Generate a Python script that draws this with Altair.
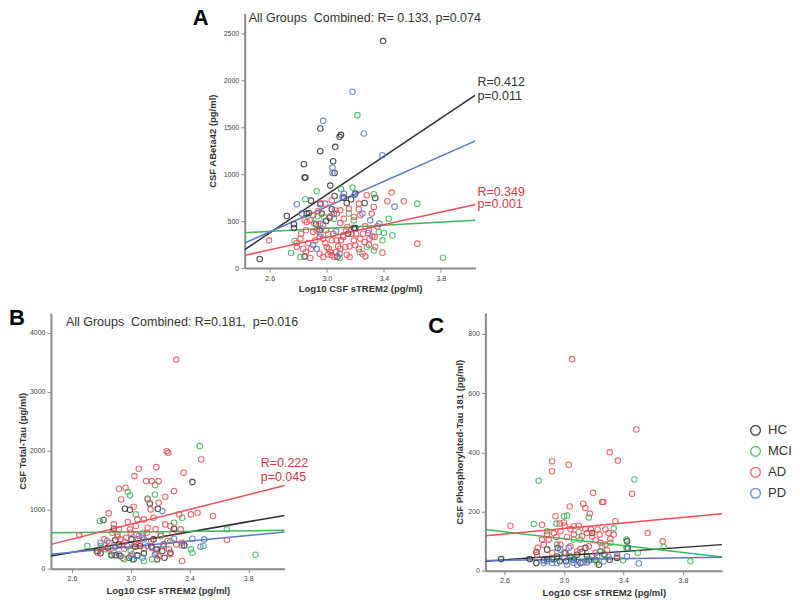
import altair as alt
import pandas as pd

FONT = "Liberation Sans"
GROUPS = ["HC", "MCI", "AD", "PD"]
COLORS = ["#2e2e2e", "#3cb85a", "#ec4f57", "#5b79c9"]

# ---------------- Panel A : CSF ABeta42 ----------------
a_hc_x = [3.395, 3.09, 3.10, 2.955, 2.955, 3.06, 3.045, 3.055, 2.84, 2.845, 2.85, 3.025, 2.89, 2.72,
          2.86, 2.875, 2.77, 2.77, 2.965, 2.995, 3.02, 2.925, 2.95, 3.035, 3.055, 3.12, 3.17, 3.2,
          3.265, 3.34, 3.14, 3.19, 3.15, 2.53, 2.845, 3.075, 3.2]
a_hc_y = [2418, 1398, 1419, 1486, 1245, 1291, 1138, 1013, 1106, 964, 964, 878, 718, 555,
          580, 587, 466, 427, 580, 501, 537, 466, 402, 626, 768, 750, 733, 793,
          693, 747, 693, 427, 366, 96, 124, 121, 427]
a_mci_x = [3.215, 2.93, 2.85, 3.18, 3.1, 3.33, 3.635, 3.435, 3.4, 3.46, 3.39, 3.365, 2.775, 2.75,
           3.815, 3.09, 3.28, 3.23, 3.05, 2.935, 2.98, 2.91, 3.01, 3.19, 2.815, 2.955, 3.155, 3.33]
a_mci_y = [1629, 818, 733, 857, 839, 786, 686, 526, 373, 349, 295, 384, 288, 160,
           110, 107, 224, 171, 526, 551, 544, 480, 366, 508, 117, 679, 580, 188]
a_ad_x = [2.595, 3.455, 3.54, 3.425, 3.635, 3.39, 3.28, 3.33, 3.225, 3.235, 3.315, 3.355, 3.295, 3.3,
          3.32, 3.265, 3.225, 3.25, 3.27, 3.16, 3.13, 3.16, 3.19, 3.205, 3.255, 3.145, 3.095, 3.12,
          3.07, 3.095, 3.06, 3.025, 2.99, 2.955, 2.86, 2.885, 2.855, 2.905, 2.92, 2.87, 2.835, 2.855,
          2.885, 2.79, 2.79, 2.95, 2.975, 2.99, 3.0, 3.015, 3.025, 3.035, 3.055, 3.065, 3.08, 3.1,
          3.115, 3.045, 2.995, 2.955, 2.93, 2.82, 2.815, 2.89, 2.95, 2.975, 3.01, 3.095, 3.14, 3.2,
          3.295, 3.34, 3.335, 3.235, 3.27, 3.19, 3.155, 3.225, 3.035, 3.115, 3.07, 3.035, 2.905, 2.94,
          2.845, 3.135, 3.175]
a_ad_y = [295, 804, 711, 711, 260, 164, 775, 651, 626, 562, 580, 445, 402, 313,
          338, 277, 206, 153, 124, 117, 224, 231, 295, 366, 366, 437, 480, 526,
          580, 615, 615, 551, 686, 693, 491, 509, 402, 384, 295, 267, 206, 171,
          107, 267, 224, 331, 313, 267, 224, 206, 171, 135, 117, 171, 231, 295,
          349, 366, 402, 473, 402, 366, 313, 206, 153, 117, 146, 206, 142, 242,
          249, 224, 331, 313, 445, 544, 633, 686, 722, 331, 295, 295, 562, 605,
          509, 402, 366]
a_pd_x = [3.18, 2.975, 3.26, 3.04, 3.04, 3.39, 2.79, 2.955, 3.05, 3.11, 3.195, 3.475, 3.37, 3.065,
          2.905, 2.93, 3.09, 2.825, 3.25, 3.305, 2.975, 3.12, 2.955, 3.29]
a_pd_y = [1878, 1568, 1433, 1070, 1013, 1202, 679, 679, 580, 757, 782, 654, 473, 391,
          242, 206, 153, 580, 580, 508, 466, 793, 366, 373]
# fitted lines, read at the left and right edges of the plot
a_line_x = [2.425, 4.042]
a_line_y = {"HC": [196, 1842], "MCI": [377, 509], "AD": [135, 676], "PD": [267, 1355]}

# ---------------- Panel B : CSF Total-Tau ----------------
b_hc_x = [3.42, 3.13, 3.185, 2.96, 2.995, 2.815, 2.885, 2.895, 2.77, 2.795, 2.9, 2.93, 2.99, 3.02,
          3.045, 3.09, 3.14, 3.215, 3.23, 3.27, 3.295, 3.365, 3.065, 3.03, 3.155, 3.18, 2.92, 2.845,
          2.87, 3.005, 3.18]
b_hc_y = [1469, 1107, 1017, 1017, 1000, 825, 678, 486, 299, 260, 226, 215, 186, 158,
          226, 260, 373, 299, 186, 271, 678, 395, 384, 373, 497, 328, 412, 356,
          226, 497, 158]
b_mci_x = [3.47, 2.98, 2.995, 3.165, 3.165, 3.115, 2.79, 3.655, 3.85, 3.41, 3.495, 2.795, 3.01, 3.09,
           2.705, 3.295, 3.35, 3.205, 3.27, 2.91, 2.865, 2.955, 3.145, 3.225, 3.035, 3.42, 3.085, 3.0]
b_mci_y = [2079, 1299, 1243, 1418, 1260, 1192, 808, 667, 237, 328, 384, 339, 158, 130,
           384, 780, 864, 582, 469, 582, 243, 158, 158, 412, 921, 271, 610, 300]
b_ad_x = [3.31, 3.245, 3.255, 3.48, 3.175, 3.36, 3.055, 3.025, 3.105, 3.145, 3.19, 2.92, 2.965, 2.935,
          3.115, 3.295, 3.235, 3.02, 3.19, 2.85, 3.41, 3.455, 3.56, 3.33, 3.655, 2.65, 2.98, 3.09,
          3.155, 3.035, 3.04, 2.92, 2.875, 2.82, 2.775, 2.83, 2.93, 2.97, 3.05, 3.11, 3.205, 3.285,
          3.27, 3.235, 3.34, 3.35, 3.27, 3.19, 3.145, 3.09, 3.01, 2.955, 2.9, 2.855, 2.795, 3.115,
          3.17, 3.0, 3.31, 3.25, 3.35, 3.055, 2.91, 2.96, 3.02, 3.08, 3.14, 3.175, 3.22, 3.26,
          2.885, 2.945, 2.995, 3.045, 3.135, 2.885]
b_ad_y = [3548, 1994, 1966, 1853, 1723, 1627, 1695, 1571, 1486, 1486, 1486, 1356, 1373, 1175,
          1175, 1316, 1220, 1051, 1119, 938, 921, 949, 893, 921, 486, 565, 791, 836,
          864, 723, 582, 667, 610, 497, 271, 328, 497, 525, 497, 610, 554, 610,
          723, 751, 667, 130, 243, 215, 356, 339, 243, 339, 384, 441, 384, 695,
          667, 610, 412, 469, 441, 412, 542, 452, 384, 542, 469, 271, 384, 328,
          271, 186, 667, 836, 1006, 751]
b_pd_x = [3.215, 3.475, 3.5, 3.42, 3.295, 3.35, 2.84, 2.895, 2.975, 3.09, 3.045, 3.055, 3.115, 2.795,
          3.17, 3.225, 3.0, 2.92, 3.08, 3.165]
b_pd_y = [977, 373, 497, 508, 508, 395, 469, 373, 384, 497, 215, 554, 384, 441,
          328, 412, 215, 243, 186, 243]
b_line_x = [2.457, 4.048]
b_line_y = {"HC": [215, 904], "MCI": [610, 650], "AD": [412, 1412], "PD": [243, 621]}

# ---------------- Panel C : CSF Phosphorylated-Tau 181 ----------------
c_hc_x = [2.578, 2.77, 2.815, 2.815, 2.887, 2.887, 2.958, 3.008, 3.014, 3.088, 3.144, 3.155, 3.19, 3.212,
          3.235, 3.245, 3.357, 3.424, 3.429, 2.92, 3.066, 3.111, 3.272, 2.972, 2.864, 3.167, 3.308, 3.044,
          3.122, 2.954]
c_hc_y = [39, 39, 63, 26, 71, 39, 77, 60, 32, 54, 77, 48, 127, 37,
          20, 65, 43, 99, 77, 39, 37, 26, 54, 32, 35, 35, 37, 48,
          63, 48]
c_mci_x = [2.83, 3.474, 3.021, 3.0, 2.797, 3.167, 3.335, 2.95, 3.42, 3.496, 3.85, 3.671, 3.397, 3.1,
           3.11, 3.257, 3.312, 2.954, 3.0, 3.055, 3.156, 2.932, 3.223, 2.887, 3.272, 3.066, 3.42]
c_mci_y = [304, 308, 186, 184, 158, 180, 143, 159, 105, 60, 32, 80, 35, 130,
           105, 82, 94, 88, 60, 43, 39, 37, 28, 133, 57, 105, 77]
c_ad_x = [3.055, 3.487, 3.308, 3.362, 2.92, 2.92, 3.032, 3.458, 3.196, 3.257, 3.265, 3.039, 3.129, 3.144,
          3.174, 2.64, 2.853, 2.943, 3.0, 3.005, 3.066, 3.1, 3.144, 3.182, 3.346, 3.279, 3.3, 3.335,
          3.563, 3.664, 3.24, 3.19, 3.122, 3.066, 3.021, 2.95, 2.898, 2.864, 2.824, 2.976, 3.044, 3.11,
          3.167, 3.245, 3.279, 2.976, 2.932, 2.887, 2.853, 2.82, 2.92, 3.01, 3.088, 3.212, 3.29, 3.357,
          3.155, 3.226, 3.044, 2.972, 3.212, 3.312]
c_ad_y = [715, 477, 400, 372, 370, 336, 358, 260, 263, 232, 232, 217, 226, 212,
          193, 152, 155, 184, 163, 152, 150, 152, 141, 139, 167, 139, 127, 122,
          127, 99, 122, 116, 116, 122, 114, 114, 105, 88, 77, 88, 82, 73,
          82, 94, 88, 133, 127, 122, 105, 54, 60, 60, 65, 60, 69, 48,
          127, 139, 141, 159, 103, 107]
c_pd_x = [2.976, 3.032, 3.066, 3.088, 3.021, 2.887, 2.954, 3.129, 3.178, 3.268, 3.357, 3.424, 3.503, 3.0,
          2.864, 3.223, 3.156, 3.055, 3.3, 2.92]
c_pd_y = [71, 77, 26, 20, 20, 32, 26, 26, 37, 32, 57, 48, 24, 43,
          26, 48, 28, 37, 48, 26]
c_line_x = [2.472, 4.063]
c_line_y = {"HC": [32, 88], "MCI": [139, 46], "AD": [118, 192], "PD": [34, 45]}

x_ticks = [2.6, 2.8, 3.0, 3.2, 3.4, 3.6, 3.8, 4.0]
SP = "\u00a0"


def points_df(xs, ys):
    rows = []
    for g, (gx, gy) in zip(GROUPS, zip(xs, ys)):
        for xv, yv in zip(gx, gy):
            rows.append({"group": g, "x": xv, "y": yv})
    return pd.DataFrame(rows)


def lines_df(lx, ly):
    rows = []
    for g in GROUPS:
        for xv, yv in zip(lx, ly[g]):
            rows.append({"group": g, "x": xv, "y": yv})
    return pd.DataFrame(rows)


color = alt.Color("group:N", scale=alt.Scale(domain=GROUPS, range=COLORS),
                  legend=alt.Legend(title=None, orient="none", legendX=699, legendY=411,
                                    symbolType="circle", symbolSize=95, symbolStrokeWidth=1.4,
                                    symbolFillColor="transparent", labelFontSize=13, labelFont=FONT,
                                    labelColor="#333", rowPadding=4, labelOffset=6, padding=0))


def panel(pts, lns, xdom, ydom, yticks, ytitle, ypad, xpad, texts, w, h):
    xs = alt.X("x:Q", scale=alt.Scale(domain=xdom, nice=False, zero=False),
               axis=alt.Axis(values=x_ticks, format=".1f", title="Log10 CSF sTREM2 (pg/ml)",
                             titlePadding=xpad))
    ys = alt.Y("y:Q", scale=alt.Scale(domain=ydom, nice=False),
               axis=alt.Axis(values=yticks, format="d", title=ytitle, titlePadding=ypad))
    base_p = alt.Chart(pts).mark_point(shape="circle", filled=False, size=30, strokeWidth=1.1,
                                      opacity=0.85).encode(x=xs, y=ys, color=color)
    base_l = alt.Chart(lns).mark_line(strokeWidth=1.5, clip=True).encode(
        x="x:Q", y="y:Q", color=alt.Color("group:N"), detail="group:N")
    layers = [base_l, base_p]
    for t in texts:
        d = pd.DataFrame({"x": [t["x"]], "y": [t["y"]], "label": [t["label"]]})
        layers.append(alt.Chart(d).mark_text(align="left", baseline="alphabetic", font=FONT,
                                             fontSize=t["size"], fontWeight=t.get("weight", "normal"),
                                             color=t["color"]).encode(
            x="x:Q", y="y:Q", text="label:N"))
    return alt.layer(*layers).properties(width=w, height=h)


A = panel(points_df([a_hc_x, a_mci_x, a_ad_x, a_pd_x], [a_hc_y, a_mci_y, a_ad_y, a_pd_y]),
          lines_df(a_line_x, a_line_y), [2.425, 4.042], [0, 2713], [0, 500, 1000, 1500, 2000, 2500],
          "CSF ABeta42 (pg/ml)", 6, 2,
          [{"x": 2.061, "y": 2585, "label": "A", "size": 22, "weight": "bold", "color": "#000"},
           {"x": 2.453, "y": 2617, "label": "All Groups" + SP + " Combined: R= 0.133, p=0.074",
            "size": 12.5, "color": "#333"},
           {"x": 4.056, "y": 1936, "label": "R=0.412", "size": 12.5, "color": "#333"},
           {"x": 4.056, "y": 1787, "label": "p=0.011", "size": 12.5, "color": "#333"},
           {"x": 4.056, "y": 766, "label": "R=0.349", "size": 12.5, "color": "#d23a42"},
           {"x": 4.056, "y": 638, "label": "p=0.001", "size": 12.5, "color": "#d23a42"}],
          231, 255)

B = panel(points_df([b_hc_x, b_mci_x, b_ad_x, b_pd_x], [b_hc_y, b_mci_y, b_ad_y, b_pd_y]),
          lines_df(b_line_x, b_line_y), [2.457, 4.048], [0, 4339], [0, 1000, 2000, 3000, 4000],
          "CSF Total-Tau (pg/ml)", 2, 4,
          [{"x": 2.171, "y": 4136, "label": "B", "size": 22, "weight": "bold", "color": "#000"},
           {"x": 2.559, "y": 4119, "label": "All Groups" + SP + " Combined: R=0.181," + SP + " p=0.016",
            "size": 12.5, "color": "#333"},
           {"x": 3.885, "y": 1729, "label": "R=0.222", "size": 12.5, "color": "#d23a42"},
           {"x": 3.885, "y": 1492, "label": "p=0.045", "size": 12.5, "color": "#d23a42"}],
          234, 256)

C = panel(points_df([c_hc_x, c_mci_x, c_ad_x, c_pd_x], [c_hc_y, c_mci_y, c_ad_y, c_pd_y]),
          lines_df(c_line_x, c_line_y), [2.472, 4.063], [0, 871], [0, 200, 400, 600, 800],
          "CSF Phosphorylated-Tau 181 (pg/ml)", 3, 4,
          [{"x": 2.088, "y": 804, "label": "C", "size": 22, "weight": "bold", "color": "#000"}],
          237, 258)

spacer = alt.Chart(pd.DataFrame({"v": [0]})).mark_point(opacity=0).encode(
    x=alt.value(0), y=alt.value(0)).properties(width=190, height=10)

row1 = alt.hconcat(spacer, A, spacing=4, bounds="flush")
row2 = alt.hconcat(B, C, spacing=201, bounds="flush")
chart = alt.vconcat(row1, row2, spacing=300, bounds="flush").properties(
    padding={"top": -1, "left": 0, "right": 0, "bottom": 0}).configure_view(
    stroke=None).configure_axis(
    grid=False, domainColor="#8a8a8a", domainWidth=2, tickColor="#8a8a8a", tickSize=4,
    tickWidth=1, labelFontSize=7, labelColor="#444", labelFont=FONT, titleFont=FONT,
    titleFontSize=9.5, titleFontWeight="bold", titleColor="#333", labelPadding=2)

chart.save("out.html", embed_options={"renderer": "svg", "actions": False})
